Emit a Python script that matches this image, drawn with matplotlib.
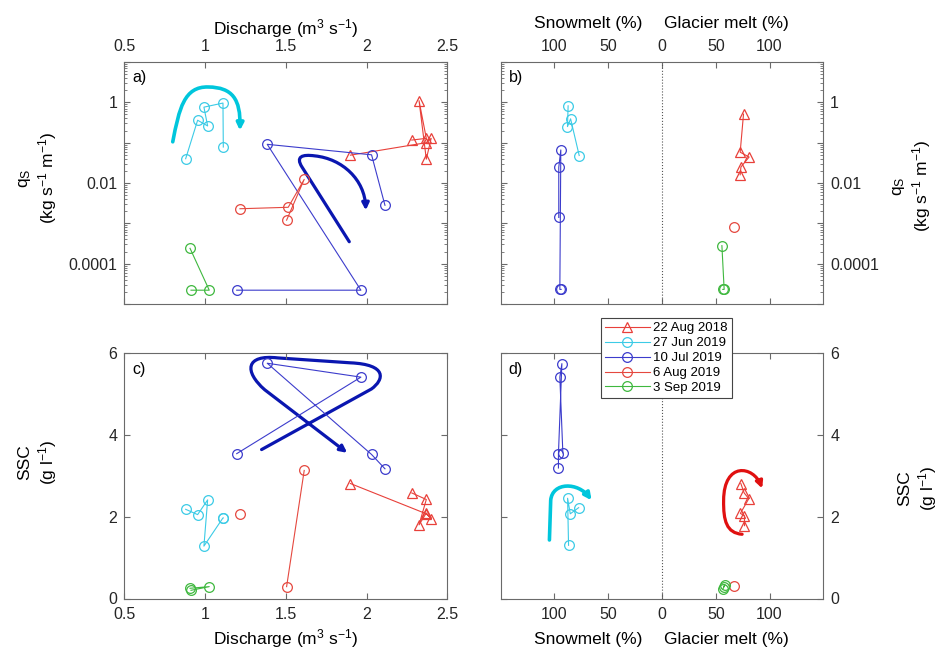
import numpy as np
import matplotlib
matplotlib.use("Agg")
import matplotlib.pyplot as plt
from matplotlib.lines import Line2D
from matplotlib.path import Path
from matplotlib.patches import FancyArrowPatch
from matplotlib.ticker import FixedLocator, FixedFormatter, LogLocator, NullFormatter

plt.rcParams['font.family'] = ['Liberation Sans', 'DejaVu Sans']
plt.rcParams['mathtext.default'] = 'regular'
plt.rcParams['font.size'] = 11

nan = np.nan

# ---- panels a / c : discharge vs qs and SSC ----
# 22 Aug 2018 (triangles)
q_aug18 = [1.90, 2.37, 2.40, 2.37, 2.325, 2.37, 2.28]
qs_aug18 = [0.049, 0.10, 0.128, 0.039, 1.1, 0.128, 0.116]
ssc_aug18 = [2.81, 2.07, 1.95, 2.09, 1.80, 2.42, 2.58]
# 27 Jun 2019
q_jun19 = [0.88, 0.954, 1.016, 0.993, 1.111, 1.113]
qs_jun19 = [0.04, 0.36, 0.26, 0.76, 0.96, 0.078]
ssc_jun19 = [2.18, 2.05, 2.41, 1.28, 1.97, 1.97]
# 10 Jul 2019
q_jul19 = [1.196, 1.965, 1.385, 2.031, 2.114]
qs_jul19 = [2.2e-5, 2.2e-5, 0.091, 0.05, 0.0028]
ssc_jul19 = [3.54, 5.41, 5.75, 3.52, 3.17]
# 6 Aug 2019
q_aug19 = [1.216, 1.515, 1.614, 1.505]
qs_aug19 = [0.0023, 0.0025, 0.0123, 0.0012]
ssc_aug19 = [2.07, nan, 3.13, 0.29]
# 3 Sep 2019
q_sep19 = [0.907, 1.026, 0.913]
qs_sep19 = [2.4e-4, 2.2e-5, 2.2e-5]
ssc_sep19 = [0.25, 0.29, 0.20]

# ---- panel b : melt contribution vs qs (snowmelt on the left) ----
glac_b_aug18 = [75.8, 72.7, 81.0, 73.4, 72.7]
qs_b_aug18 = [0.51, 0.058, 0.044, 0.025, 0.016]
snow_b_jun19 = [77.0, 85.0, 87.9, 87.3]
qs_b_jun19 = [0.048, 0.39, 0.25, 0.82]
snow_b_jul19 = [93.8, 95.0, 94.1, 96.0, 96.0]
qs_b_jul19 = [2.3e-5, 2.3e-5, 0.066, 0.0245, 0.0014]
glac_b_aug19 = [67.1]
qs_b_aug19 = [8.1e-4]
glac_b_sep19 = [55.7, 57.8, 56.5]
qs_b_sep19 = [2.8e-4, 2.3e-5, 2.3e-5]

# ---- panel d : melt contribution vs SSC ----
glac_d_aug18 = [73.3, 76.4, 80.7, 72.9, 76.7, 76.7]
ssc_d_aug18 = [2.81, 2.58, 2.44, 2.08, 2.02, 1.78]
snow_d_jun19 = [77.5, 85.3, 87.8, 86.9]
ssc_d_jun19 = [2.22, 2.07, 2.45, 1.30]
snow_d_jul19 = [92.2, 95.0, 93.1, 96.3, 96.3]
ssc_d_jul19 = [3.56, 5.41, 5.74, 3.54, 3.19]
glac_d_aug19 = [67.3]
ssc_d_aug19 = [0.30]
glac_d_sep19 = [57.5, 58.5, 56.5]
ssc_d_sep19 = [0.29, 0.34, 0.22]

labels = ['22 Aug 2018', '27 Jun 2019', '10 Jul 2019', '6 Aug 2019', '3 Sep 2019']
colors = ['#e8403a', '#3ccbe6', '#3c3ccc', '#e5483f', '#3fb83f']
markers = ['^', 'o', 'o', 'o', 'o']

# hand-drawn hysteresis arrows (vertices for bezier paths, data units)
arr_a_cyan = [(0.80, 0.105), (0.84, 0.7), (0.87, 2.5), (1.02, 2.4),
              (1.17, 2.35), (1.22, 1.2), (1.216, 0.2)]
arr_a_blue = [(1.893, 3.5e-4), (1.60, 0.025), (1.56, 0.045), (1.60, 0.052), (1.68, 0.047),
              (1.85, 0.04), (1.99, 0.012), (1.995, 0.0021)]
arr_c_blue = [(1.35, 3.64), (2.03, 5.12), (2.11, 5.35), (2.13, 5.72), (1.90, 5.76),
              (1.45, 5.88), (1.25, 5.97), (1.24, 5.55), (1.37, 5.10), (1.88, 3.56)]
arr_d_cyan = [(-104.7, 1.43), (-103.5, 2.4), (-102.0, 2.85), (-78.0, 2.85), (-65.5, 2.40)]
arr_d_red = [(74.5, 1.57), (60.0, 1.60), (57.0, 1.90), (57.3, 2.40),
             (57.5, 3.35), (85.0, 3.25), (93.2, 2.69)]

codes_a_cyan = [Path.MOVETO] + [Path.CURVE4] * 6
codes_a_blue = [Path.MOVETO, Path.LINETO] + [Path.CURVE4] * 6
codes_c_blue = [Path.MOVETO, Path.LINETO, Path.CURVE4, Path.CURVE4, Path.CURVE4,
                Path.LINETO, Path.CURVE4, Path.CURVE4, Path.CURVE4, Path.LINETO]
codes_d_cyan = [Path.MOVETO, Path.LINETO, Path.CURVE4, Path.CURVE4, Path.CURVE4]
codes_d_red = [Path.MOVETO] + [Path.CURVE4] * 6

W, H = 944, 655
fig = plt.figure(figsize=(W / 100, H / 100), dpi=100)


def box(x0, y0, x1, y1):
    return [x0 / W, 1 - y1 / H, (x1 - x0) / W, (y1 - y0) / H]


ax_a = fig.add_axes(box(124.3, 62, 447.3, 304))
ax_b = fig.add_axes(box(500.7, 62, 823.3, 304))
ax_c = fig.add_axes(box(124.3, 353, 447.3, 598.5))
ax_d = fig.add_axes(box(500.7, 353, 823.3, 598.5))

spine_col = '#6a6a6a'
for ax in (ax_a, ax_b, ax_c, ax_d):
    for s in ax.spines.values():
        s.set_color(spine_col)
        s.set_linewidth(0.8)
    ax.tick_params(which='both', direction='in', top=True, right=True,
                   color=spine_col, labelcolor='#262626', labelsize=11.5)
    ax.tick_params(which='major', length=4.5, width=0.8)
    ax.tick_params(which='minor', length=2.5, width=0.6)


def draw(ax, xs, ys, i):
    ax.plot(xs, ys, color=colors[i], marker=markers[i], mfc='none', mec=colors[i],
            ms=7.5 if markers[i] == '^' else 7, lw=0.8, mew=0.9)


def arrow(ax, verts, codes, col, lw):
    p = FancyArrowPatch(path=Path(verts, codes), arrowstyle='-|>', color=col,
                        lw=lw, mutation_scale=10, capstyle='round', joinstyle='round')
    ax.add_patch(p)


# panel a
for i, (q, s) in enumerate([(q_aug18, qs_aug18), (q_jun19, qs_jun19), (q_jul19, qs_jul19),
                            (q_aug19, qs_aug19), (q_sep19, qs_sep19)]):
    draw(ax_a, q, s, i)
# panel c
for i, (q, s) in enumerate([(q_aug18, ssc_aug18), (q_jun19, ssc_jun19), (q_jul19, ssc_jul19),
                            (q_aug19, ssc_aug19), (q_sep19, ssc_sep19)]):
    draw(ax_c, q, s, i)
# panel b
draw(ax_b, glac_b_aug18, qs_b_aug18, 0)
draw(ax_b, -np.array(snow_b_jun19), qs_b_jun19, 1)
draw(ax_b, -np.array(snow_b_jul19), qs_b_jul19, 2)
draw(ax_b, glac_b_aug19, qs_b_aug19, 3)
draw(ax_b, glac_b_sep19, qs_b_sep19, 4)
# panel d
draw(ax_d, glac_d_aug18, ssc_d_aug18, 0)
draw(ax_d, -np.array(snow_d_jun19), ssc_d_jun19, 1)
draw(ax_d, -np.array(snow_d_jul19), ssc_d_jul19, 2)
draw(ax_d, glac_d_aug19, ssc_d_aug19, 3)
draw(ax_d, glac_d_sep19, ssc_d_sep19, 4)

arrow(ax_a, arr_a_cyan, codes_a_cyan, '#00c6dc', 2.6)
arrow(ax_a, arr_a_blue, codes_a_blue, '#0a16b0', 2.3)
arrow(ax_c, arr_c_blue, codes_c_blue, '#0a16b0', 2.3)
arrow(ax_d, arr_d_cyan, codes_d_cyan, '#00c6dc', 2.6)
arrow(ax_d, arr_d_red, codes_d_red, '#e01010', 2.3)

# log axes
for ax in (ax_a, ax_b):
    ax.set_yscale('log')
    ax.set_ylim(1e-5, 10)
    ax.yaxis.set_major_locator(FixedLocator([1e-5, 1e-4, 1e-3, 1e-2, 1e-1, 1, 10]))
    ax.yaxis.set_major_formatter(FixedFormatter(['', '0.0001', '', '0.01', '', '1', '']))
    ax.yaxis.set_minor_locator(LogLocator(base=10, subs=np.arange(2, 10), numticks=100))
    ax.yaxis.set_minor_formatter(NullFormatter())

for ax in (ax_c, ax_d):
    ax.set_ylim(0, 6)
    ax.set_yticks([0, 2, 4, 6])

for ax in (ax_a, ax_c):
    ax.set_xlim(0.5, 2.5)
    ax.set_xticks([0.5, 1, 1.5, 2, 2.5])
    ax.set_xticklabels(['0.5', '1', '1.5', '2', '2.5'])

for ax in (ax_b, ax_d):
    ax.set_xlim(-150, 150)
    ax.set_xticks([-100, -50, 0, 50, 100])
    ax.set_xticklabels(['100', '50', '0', '50', '100'])
    ax.axvline(0, color='#555555', ls=':', lw=0.8)

ax_a.tick_params(axis='x', labeltop=True, labelbottom=False, pad=6)
ax_b.tick_params(axis='x', labeltop=True, labelbottom=False, pad=6)
ax_c.tick_params(axis='x', pad=6)
ax_d.tick_params(axis='x', pad=6)
ax_b.tick_params(axis='y', labelleft=False, labelright=True, pad=5)
ax_d.tick_params(axis='y', labelleft=False, labelright=True, pad=5)
ax_a.tick_params(axis='y', pad=5)
ax_c.tick_params(axis='y', pad=5)

ax_a.xaxis.set_label_position('top')
ax_a.set_xlabel('Discharge (m$^3$ s$^{-1}$)', fontsize=12.5, labelpad=3)
ax_c.set_xlabel('Discharge (m$^3$ s$^{-1}$)', fontsize=12.5, labelpad=4)

ax_b.text(0.27, 1.16, 'Snowmelt (%)', transform=ax_b.transAxes, ha='center', va='center', fontsize=12.5)
ax_b.text(0.70, 1.16, 'Glacier melt (%)', transform=ax_b.transAxes, ha='center', va='center', fontsize=12.5)
ax_d.text(0.27, -0.168, 'Snowmelt (%)', transform=ax_d.transAxes, ha='center', va='center', fontsize=12.5)
ax_d.text(0.70, -0.168, 'Glacier melt (%)', transform=ax_d.transAxes, ha='center', va='center', fontsize=12.5)

for ax, tag in ((ax_a, 'a)'), (ax_b, 'b)'), (ax_c, 'c)'), (ax_d, 'd)')):
    ax.text(0.025, 0.965, tag, transform=ax.transAxes, ha='left', va='top', fontsize=11.5)

qs_label = 'q$_S$\n(kg s$^{-1}$ m$^{-1}$)'
ssc_label = 'SSC\n(g l$^{-1}$)'
fig.text(38 / W, 1 - 178 / H, qs_label, rotation=90, ha='center', va='center',
         multialignment='center', fontsize=12.5)
fig.text(38 / W, 1 - 462 / H, ssc_label, rotation=90, ha='center', va='center',
         multialignment='center', fontsize=12.5)
fig.text(912 / W, 1 - 186 / H, qs_label, rotation=90, ha='center', va='center',
         multialignment='center', fontsize=12.5)
fig.text(918 / W, 1 - 488 / H, ssc_label, rotation=90, ha='center', va='center',
         multialignment='center', fontsize=12.5)

handles = [Line2D([], [], color=colors[i], marker=markers[i], mfc='none', mec=colors[i],
                  ms=7.5 if markers[i] == '^' else 7, lw=0.8, mew=0.9) for i in range(5)]
leg = fig.legend(handles, labels, loc='upper left', bbox_to_anchor=(600.7 / W, 1 - 318.3 / H),
                 frameon=True, fancybox=False, edgecolor='#444444', framealpha=1,
                 fontsize=9.5, handlelength=3.4, labelspacing=0.2, borderpad=0.3,
                 handletextpad=0.3, borderaxespad=0)
leg.get_frame().set_linewidth(0.8)

fig.savefig('out.png', dpi=100)
